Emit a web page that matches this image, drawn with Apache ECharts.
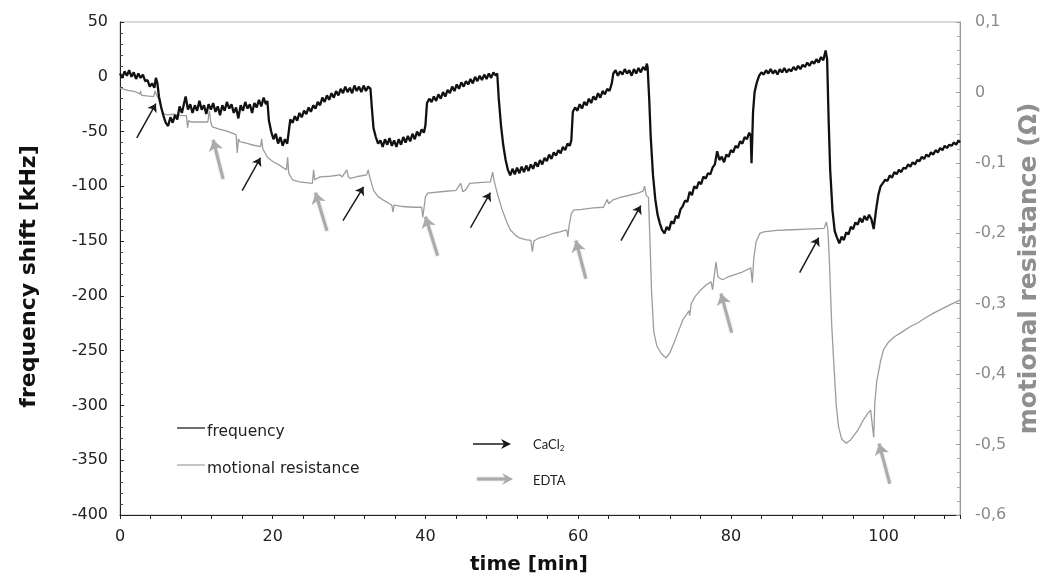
<!DOCTYPE html>
<html>
<head>
<meta charset="utf-8">
<script src="https://cdn.jsdelivr.net/npm/echarts@6/dist/echarts.min.js"></script>
<style>
  html, body { margin: 0; padding: 0; background: #fff; }
  #chart { width: 1043px; height: 579px; }
</style>
</head>
<body>
<div id="chart"></div>
<script>
// Frequency shift of the resonator [kHz] vs time [min]
const frequencyShift = [
  [0,3],[0.3,-1],[0.6,5],[0.9,1],[1.2,6],[1.5,0],[1.8,4],[2.1,-2],[2.4,3],[2.7,-1],[3.0,2],[3.3,-4],[3.6,-3],[3.9,-9],[4.2,-6],[4.5,-10],[4.7,-1],[4.9,-6],
  [5.1,-18],[5.4,-28],[5.7,-36],[6.0,-42],[6.3,-45],[6.6,-37],[6.9,-42],[7.2,-35],[7.5,-39],[7.8,-27],[8.1,-33],[8.4,-24],[8.6,-18],[8.9,-30],[9.2,-25],[9.5,-33],
  [9.8,-26],[10.1,-31],[10.4,-22],[10.7,-30],[11.0,-26],[11.3,-34],[11.6,-25],[11.9,-30],[12.2,-24],[12.5,-32],[12.8,-27],[13.1,-35],[13.4,-26],[13.7,-31],[14.0,-23],
  [14.3,-29],[14.6,-25],[14.9,-33],[15.2,-28],[15.5,-38],[15.8,-26],[16.1,-31],[16.4,-23],[16.7,-29],[17.0,-25],[17.3,-33],[17.6,-24],[17.9,-28],[18.2,-21],[18.5,-27],
  [18.8,-19],[19.1,-25],[19.3,-22],[19.5,-40],[19.8,-50],[20.1,-57],[20.4,-52],[20.7,-61],[21.0,-55],[21.3,-63],[21.6,-57],[21.9,-61],[22.1,-50],[22.3,-39],[22.6,-42],
  [22.9,-36],[23.2,-40],[23.5,-33],[23.8,-37],[24.1,-31],[24.4,-34],[24.7,-28],[25.0,-32],[25.3,-26],[25.6,-29],[25.9,-23],[26.2,-26],[26.5,-19],[26.8,-23],[27.1,-17],
  [27.4,-21],[27.7,-15],[28.0,-19],[28.3,-13],[28.6,-17],[28.9,-11],[29.2,-15],[29.5,-9],[29.8,-14],[30.1,-10],[30.4,-15],[30.7,-8],[31.0,-13],[31.3,-9],[31.6,-14],
  [31.9,-8],[32.2,-13],[32.5,-9],[32.8,-11],[33.0,-30],[33.2,-47],[33.5,-55],[33.8,-61],[34.1,-58],[34.4,-64],[34.7,-57],[35.0,-62],[35.3,-56],[35.6,-63],[35.9,-58],
  [36.2,-64],[36.5,-57],[36.8,-62],[37.1,-55],[37.4,-60],[37.7,-54],[38.0,-59],[38.3,-52],[38.6,-57],[38.9,-50],[39.2,-54],[39.5,-48],[39.8,-51],[40.0,-44],[40.2,-24],
  [40.5,-20],[40.8,-23],[41.1,-18],[41.4,-22],[41.7,-16],[42.0,-20],[42.3,-14],[42.6,-18],[42.9,-12],[43.2,-15],[43.5,-9],[43.8,-13],[44.1,-7],[44.4,-11],[44.7,-5],
  [45.0,-9],[45.3,-4],[45.6,-7],[45.9,-2],[46.2,-6],[46.5,0],[46.8,-4],[47.1,1],[47.4,-3],[47.7,2],[48.0,-2],[48.3,3],[48.6,-1],[48.9,4],[49.2,1],[49.4,3],
  [49.6,-20],[49.9,-45],[50.2,-63],[50.5,-76],[50.8,-85],[51.1,-90],[51.4,-84],[51.7,-89],[52.0,-83],[52.3,-88],[52.6,-82],[52.9,-87],[53.2,-81],[53.5,-86],[53.8,-80],
  [54.1,-84],[54.4,-78],[54.7,-82],[55.0,-76],[55.3,-80],[55.6,-74],[55.9,-77],[56.2,-71],[56.5,-75],[56.8,-69],[57.1,-72],[57.4,-67],[57.7,-70],[58.0,-64],[58.3,-67],
  [58.6,-61],[58.9,-63],[59.1,-58],[59.3,-32],[59.6,-28],[59.9,-31],[60.2,-25],[60.5,-29],[60.8,-23],[61.1,-26],[61.4,-20],[61.7,-24],[62.0,-18],[62.3,-21],[62.6,-15],
  [62.9,-19],[63.2,-13],[63.5,-16],[63.8,-11],[64.1,-13],[64.4,-6],[64.6,3],[64.9,6],[65.2,1],[65.5,5],[65.8,2],[66.1,7],[66.4,3],[66.7,6],[67.0,1],[67.3,7],[67.6,3],
  [67.9,8],[68.2,4],[68.5,9],[68.8,6],[69.0,12],[69.1,8],[69.3,-20],[69.5,-55],[69.8,-90],[70.1,-112],[70.4,-126],[70.7,-134],[71.0,-140],[71.3,-143],[71.6,-137],
  [71.9,-140],[72.2,-132],[72.5,-134],[72.8,-127],[73.1,-129],[73.4,-121],[73.7,-118],[74.0,-113],[74.3,-114],[74.6,-105],[74.9,-108],[75.2,-100],[75.5,-102],[75.8,-96],
  [76.1,-98],[76.4,-91],[76.7,-93],[77.0,-88],[77.3,-89],[77.6,-83],[77.9,-80],[78.2,-68],[78.5,-76],[78.8,-73],[79.1,-78],[79.4,-71],[79.7,-73],[80.0,-67],[80.3,-69],
  [80.6,-63],[80.9,-65],[81.2,-59],[81.5,-61],[81.8,-55],[82.1,-57],[82.4,-51],[82.6,-54],[82.7,-79],[82.9,-32],[83.1,-14],[83.4,-5],[83.7,1],[84.0,4],[84.3,2],
  [84.6,6],[84.9,3],[85.2,7],[85.5,3],[85.8,6],[86.1,2],[86.4,7],[86.7,4],[87.0,8],[87.3,4],[87.6,7],[87.9,5],[88.2,9],[88.5,6],[88.8,10],[89.1,7],[89.4,11],[89.7,9],
  [90.0,13],[90.3,10],[90.6,14],[90.9,12],[91.2,16],[91.5,13],[91.8,18],[92.1,15],[92.4,24],[92.6,16],[92.8,-40],[93.0,-85],[93.3,-122],[93.6,-141],[93.9,-147],
  [94.2,-152],[94.5,-146],[94.8,-149],[95.1,-142],[95.4,-144],[95.7,-137],[96.0,-139],[96.3,-133],[96.6,-135],[96.9,-129],[97.2,-133],[97.5,-127],[97.8,-131],[98.1,-126],
  [98.4,-130],[98.7,-139],[99.0,-122],[99.3,-108],[99.6,-100],[99.9,-97],[100.2,-94],[100.5,-95],[100.8,-90],[101.1,-92],[101.4,-87],[101.7,-89],[102.0,-85],[102.3,-87],
  [102.6,-83],[102.9,-84],[103.2,-80],[103.5,-82],[103.8,-78],[104.1,-80],[104.4,-76],[104.7,-77],[105.0,-73],[105.3,-75],[105.6,-71],[105.9,-73],[106.2,-69],[106.5,-71],
  [106.8,-67],[107.1,-69],[107.4,-65],[107.7,-67],[108.0,-63],[108.3,-65],[108.6,-62],[108.9,-63],[109.2,-60],[109.5,-62],[109.8,-58],[110,-60]
];

// Motional resistance [Ω] vs time [min]
const motionalResistance = [
  [0,0.006],[1.0,0.003],[2.0,0.001],[2.6,-0.002],[2.7,0.002],[2.8,-0.004],[3.5,-0.005],[4.4,-0.006],[4.6,0.002],[4.8,-0.004],[5.1,-0.01],[5.4,-0.022],[5.7,-0.03],
  [6.2,-0.032],[7.0,-0.031],[8.0,-0.033],[8.7,-0.033],[8.85,-0.05],[9.0,-0.04],[9.3,-0.042],[10.5,-0.042],[11.5,-0.042],[11.7,-0.026],[11.9,-0.043],[12.1,-0.049],
  [13.0,-0.052],[14.0,-0.055],[15.2,-0.06],[15.35,-0.086],[15.5,-0.066],[15.7,-0.07],[16.5,-0.072],[17.5,-0.075],[18.4,-0.077],[18.55,-0.066],[18.7,-0.08],[19.3,-0.092],
  [20.0,-0.098],[21.0,-0.104],[21.8,-0.11],[21.95,-0.092],[22.1,-0.115],[22.6,-0.124],[23.5,-0.127],[25.2,-0.129],[25.35,-0.11],[25.5,-0.124],[26.2,-0.12],[27.5,-0.119],
  [28.8,-0.117],[29.1,-0.12],[29.7,-0.11],[29.9,-0.12],[30.2,-0.122],[31.3,-0.119],[32.3,-0.117],[32.5,-0.11],[32.7,-0.12],[33.2,-0.139],[33.8,-0.148],[34.5,-0.153],
  [35.3,-0.158],[35.6,-0.16],[35.75,-0.17],[35.9,-0.16],[37.0,-0.162],[38.5,-0.163],[39.5,-0.163],[39.65,-0.177],[39.8,-0.165],[40.0,-0.148],[40.3,-0.143],[42.0,-0.141],
  [44.0,-0.139],[44.6,-0.129],[44.9,-0.141],[45.3,-0.138],[45.8,-0.129],[47.0,-0.128],[48.5,-0.127],[48.8,-0.113],[49.0,-0.126],[49.4,-0.143],[50.0,-0.165],[50.6,-0.183],
  [51.1,-0.195],[51.8,-0.203],[52.4,-0.207],[53.1,-0.209],[53.8,-0.21],[54.0,-0.226],[54.2,-0.211],[54.8,-0.207],[55.5,-0.205],[56.5,-0.201],[57.6,-0.198],[58.5,-0.195],
  [58.65,-0.205],[58.8,-0.19],[59.1,-0.172],[59.4,-0.167],[60.5,-0.166],[62.0,-0.164],[63.3,-0.163],[63.8,-0.152],[64.0,-0.158],[64.2,-0.16],[64.5,-0.153],[65.5,-0.149],
  [66.7,-0.146],[67.8,-0.143],[68.5,-0.14],[68.7,-0.133],[68.9,-0.146],[69.2,-0.149],[69.4,-0.21],[69.6,-0.28],[69.9,-0.34],[70.3,-0.36],[70.9,-0.371],[71.5,-0.377],
  [72.0,-0.37],[72.5,-0.357],[73.1,-0.34],[73.7,-0.323],[74.2,-0.315],[74.5,-0.31],[74.6,-0.317],[74.8,-0.3],[75.3,-0.29],[76.0,-0.281],[76.8,-0.273],[77.4,-0.269],
  [77.6,-0.28],[77.8,-0.262],[78.05,-0.241],[78.3,-0.262],[78.9,-0.266],[79.6,-0.262],[80.4,-0.259],[81.5,-0.255],[82.6,-0.249],[82.8,-0.27],[83.0,-0.235],[83.3,-0.212],
  [83.8,-0.2],[84.3,-0.198],[86.0,-0.196],[88.0,-0.195],[90.0,-0.194],[92.2,-0.193],[92.5,-0.184],[92.7,-0.195],[92.9,-0.24],[93.2,-0.33],[93.5,-0.39],[93.8,-0.445],
  [94.1,-0.475],[94.5,-0.492],[95.1,-0.498],[95.7,-0.493],[96.6,-0.48],[97.3,-0.466],[97.9,-0.456],[98.3,-0.451],[98.55,-0.45],[98.7,-0.49],[98.85,-0.44],[99.1,-0.41],
  [99.3,-0.399],[99.6,-0.381],[100.0,-0.365],[100.6,-0.355],[101.4,-0.347],[102.3,-0.341],[103.4,-0.333],[104.5,-0.327],[105.5,-0.32],[106.6,-0.313],[107.7,-0.307],
  [108.8,-0.301],[110,-0.295]
];

// Injection markers: [tail time, tail kHz, head time, head kHz]
const cacl2Arrows = [
  [2.2,-55.7,4.7,-24.6],[16.0,-104.0,18.4,-73.9],[29.2,-131.4,31.9,-100.4],
  [45.9,-137.8,48.5,-105.8],[65.6,-149.6,68.2,-117.7],[89.0,-178.8,91.5,-146.9]
];
const edtaArrows = [
  [13.5,-93.1,12.2,-57.5],[27.1,-140.5,25.6,-105.8],[41.6,-163.3,40.0,-127.7],
  [61.0,-184.3,59.7,-149.6],[80.1,-233.6,78.7,-198.0],[100.8,-371.4,99.4,-334.9]
];

// Axis ranges and names
const timeRange = [0, 110];
const freqRange = [-400, 50];
const resRange = [-0.6, 0.1];
const timeTitle = 'time [min]';
const freqTitle = 'frequency shift [kHz]';
const resTitle = 'motional resistance (\u03A9)';
const legendNames = ['frequency', 'motional resistance'];
const markerNames = ['CaCl', 'EDTA'];

const FONT = '"DejaVu Sans", sans-serif';
const chart = echarts.init(document.getElementById('chart'), null, { renderer: 'canvas' });

const option = {
  animation: false,
  backgroundColor: '#fff',
  grid: { left: 120, right: 83, top: 22, bottom: 64, outerBoundsMode: 'none', containLabel: false,
    show: true, borderColor: '#b5b5b5', borderWidth: 1 },
  xAxis: {
    type: 'value', min: timeRange[0], max: timeRange[1], interval: 4,
    name: timeTitle, nameLocation: 'middle', nameGap: 40,
    nameTextStyle: { fontFamily: FONT, fontWeight: 'bold', fontSize: 20, color: '#111', padding: [0, 22, 0, 0] },
    axisLine: { show: true, onZero: false, lineStyle: { color: '#222', width: 1 } },
    axisTick: { show: true, inside: false, length: 4, lineStyle: { color: '#222' } },
    axisLabel: { margin: 14, fontFamily: FONT, fontSize: 16, color: '#222',
      formatter: v => (v % 20 === 0 ? String(v) : '') },
    splitLine: { show: false }
  },
  yAxis: [
    {
      type: 'value', min: freqRange[0], max: freqRange[1], interval: 50, position: 'left',
      name: freqTitle, nameLocation: 'middle', nameGap: 80,
      nameTextStyle: { fontFamily: FONT, fontWeight: 'bold', fontSize: 22, color: '#111', padding: [0, 16, 0, 0] },
      axisLine: { show: true, onZero: false, lineStyle: { color: '#222', width: 1 } },
      axisTick: { show: true, inside: true, length: 4, lineStyle: { color: '#222' } },
      minorTick: { show: true, splitNumber: 5, length: 3, lineStyle: { color: '#444' } },
      axisLabel: { margin: 12, fontFamily: FONT, fontSize: 16, color: '#222' },
      splitLine: { show: false }
    },
    {
      type: 'value', min: resRange[0], max: resRange[1], interval: 0.1, position: 'right',
      name: resTitle, nameLocation: 'middle', nameGap: 52,
      nameTextStyle: { fontFamily: FONT, fontWeight: 'bold', fontSize: 25, color: '#8f8f8f' },
      axisLine: { show: true, onZero: false, lineStyle: { color: '#9a9a9a', width: 1 } },
      axisTick: { show: true, inside: true, length: 4, lineStyle: { color: '#9a9a9a' } },
      minorTick: { show: true, splitNumber: 5, length: 3, lineStyle: { color: '#aaa' } },
      axisLabel: { margin: 15, fontFamily: FONT, fontSize: 16, color: '#8a8a8a',
        formatter: v => { const s = String(+v.toFixed(1)); return s.replace('.', ','); } },
      splitLine: { show: false }
    }
  ],
  series: [
    {
      name: legendNames[1], type: 'line', yAxisIndex: 1, data: motionalResistance,
      showSymbol: false, symbol: 'none', z: 2,
      lineStyle: { color: '#9c9c9c', width: 1.3 }
    },
    {
      name: legendNames[0], type: 'line', yAxisIndex: 0, data: frequencyShift,
      showSymbol: false, symbol: 'none', z: 3,
      lineStyle: { color: '#111', width: 2.3 }
    },
    {
      name: 'CaCl2 markers', type: 'lines', coordinateSystem: 'cartesian2d', xAxisIndex: 0, yAxisIndex: 0,
      symbol: ['none', 'arrow'], symbolSize: 8, silent: true, z: 5,
      lineStyle: { color: '#1a1a1a', width: 1.5, opacity: 1, curveness: 0 },
      data: cacl2Arrows.map(a => ({ coords: [[a[0], a[1]], [a[2], a[3]]] }))
    },
    {
      name: 'EDTA markers', type: 'lines', coordinateSystem: 'cartesian2d', xAxisIndex: 0, yAxisIndex: 0,
      symbol: ['none', 'arrow'], symbolSize: 11, silent: true, z: 4,
      lineStyle: { color: '#ababab', width: 3, opacity: 1, curveness: 0, shadowBlur: 2, shadowColor: 'rgba(160,160,160,0.6)' },
      data: edtaArrows.map(a => ({ coords: [[a[0], a[1]], [a[2], a[3]]] }))
    }
  ],
  graphic: [
    { type: 'line', shape: { x1: 177, y1: 428, x2: 205, y2: 428 }, style: { stroke: '#111', lineWidth: 1.2 } },
    { type: 'text', x: 207, y: 432, style: { text: legendNames[0], font: '15.5px ' + FONT, fill: '#222', verticalAlign: 'middle' } },
    { type: 'line', shape: { x1: 177, y1: 465, x2: 205, y2: 465 }, style: { stroke: '#a0a0a0', lineWidth: 1.2 } },
    { type: 'text', x: 207, y: 469, style: { text: legendNames[1], font: '15.5px ' + FONT, fill: '#222', verticalAlign: 'middle' } },
    { type: 'line', shape: { x1: 473, y1: 444, x2: 507, y2: 444 }, style: { stroke: '#1a1a1a', lineWidth: 1.6 } },
    { type: 'polygon', shape: { points: [[501, 439], [511, 444], [501, 449], [504, 444]] }, style: { fill: '#1a1a1a' } },
    { type: 'text', x: 533, y: 445, style: {
        text: '{a|' + markerNames[0] + '}{s|2}', verticalAlign: 'middle',
        rich: { a: { font: '13px Lato, sans-serif', fill: '#222' }, s: { font: '8px Lato, sans-serif', fill: '#222', padding: [6, 0, 0, 0] } } } },
    { type: 'line', shape: { x1: 477, y1: 479, x2: 508, y2: 479 }, style: { stroke: '#ababab', lineWidth: 3, shadowBlur: 2, shadowColor: 'rgba(160,160,160,0.6)' } },
    { type: 'polygon', shape: { points: [[502, 473], [513, 479], [502, 485], [506, 479]] }, style: { fill: '#ababab' } },
    { type: 'text', x: 533, y: 481, style: { text: markerNames[1], font: '13px Lato, sans-serif', fill: '#222', verticalAlign: 'middle' } }
  ]
};

chart.setOption(option);
</script>
</body>
</html>
